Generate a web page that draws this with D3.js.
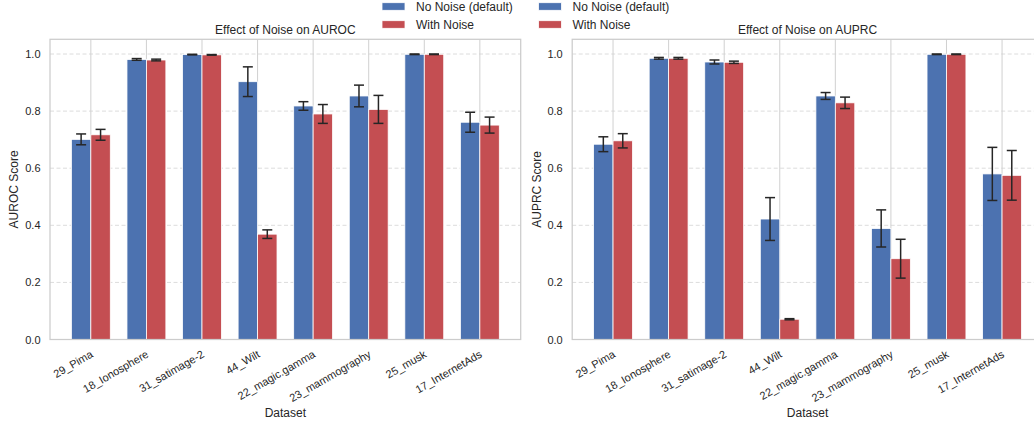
<!DOCTYPE html>
<html>
<head>
<meta charset="utf-8">
<script src="https://cdn.jsdelivr.net/npm/d3@7"></script>
<style>
  html, body { margin: 0; padding: 0; background: #fff; }
  svg { display: block; }
  text { font-family: "Liberation Sans", Arial, "DejaVu Sans", sans-serif; fill: #262626; }
</style>
</head>
<body>
<svg id="chart" width="1034" height="423"></svg>
<script>
// Datasets on the x axis
const datasets = ["29_Pima", "18_Ionosphere", "31_satimage-2", "44_Wilt",
                  "22_magic.gamma", "23_mammography", "25_musk", "17_InternetAds"];

// Series names
const seriesNames = ["No Noise (default)", "With Noise"];

// AUROC means and std
const aurocClean      = [0.701, 0.981, 0.998, 0.903, 0.818, 0.853, 0.999, 0.761];
const aurocCleanErr   = [0.019, 0.003, 0.001, 0.052, 0.015, 0.038, 0.001, 0.035];
const aurocNoisy      = [0.717, 0.979, 0.997, 0.369, 0.790, 0.806, 0.999, 0.751];
const aurocNoisyErr   = [0.019, 0.003, 0.001, 0.015, 0.033, 0.049, 0.001, 0.028];

// AUPRC means and std
const auprcClean      = [0.684, 0.985, 0.972, 0.422, 0.853, 0.389, 0.999, 0.580];
const auprcCleanErr   = [0.026, 0.003, 0.007, 0.075, 0.012, 0.065, 0.001, 0.093];
const auprcNoisy      = [0.696, 0.985, 0.971, 0.071, 0.829, 0.283, 0.999, 0.575];
const auprcNoisyErr   = [0.025, 0.003, 0.004, 0.002, 0.020, 0.068, 0.001, 0.087];

const yTicks = [0, 0.2, 0.4, 0.6, 0.8, 1.0];

const colors = ["#4C72B0", "#C44E52"];
const barW = 0.35;

const svg = d3.select("#chart");

const panels = [
  { title: "Effect of Noise on AUROC", ylabel: "AUROC Score",
    left: 50, right: 520.7, ylabX: 14,
    series: [[aurocClean, aurocCleanErr], [aurocNoisy, aurocNoisyErr]] },
  { title: "Effect of Noise on AUPRC", ylabel: "AUPRC Score",
    left: 572.2, right: 1042.9, ylabX: 537,
    series: [[auprcClean, auprcCleanErr], [auprcNoisy, auprcNoisyErr]] }
];

const plotTop = 39.3, plotBottom = 339.5;

panels.forEach(p => {
  const x = d3.scaleLinear().domain([-0.735, datasets.length - 1 + 0.735]).range([p.left, p.right]);
  const y = d3.scaleLinear().domain([0, 1.0515]).range([plotBottom, plotTop]);
  const g = svg.append("g");

  // horizontal dashed grid
  g.append("g").selectAll("line").data(yTicks).join("line")
    .attr("x1", p.left).attr("x2", p.right)
    .attr("y1", d => y(d)).attr("y2", d => y(d))
    .attr("stroke", "#dcdcdc").attr("stroke-width", 1)
    .attr("stroke-dasharray", "4,2.5");

  // vertical grid at categories
  g.append("g").selectAll("line").data(datasets).join("line")
    .attr("x1", (d, i) => x(i)).attr("x2", (d, i) => x(i))
    .attr("y1", plotTop).attr("y2", plotBottom)
    .attr("stroke", "#d0d0d0").attr("stroke-width", 1);

  // bars
  p.series.forEach(([vals, errs], s) => {
    const off = s === 0 ? -barW : 0;
    g.append("g").selectAll("rect").data(vals).join("rect")
      .attr("x", (d, i) => x(i + off))
      .attr("width", (d, i) => x(i + off + barW) - x(i + off))
      .attr("y", d => y(d))
      .attr("height", d => y(0) - y(d))
      .attr("fill", colors[s])
      .attr("stroke", "#ffffff").attr("stroke-width", 0.8);
  });

  // error bars
  p.series.forEach(([vals, errs], s) => {
    const off = s === 0 ? -barW / 2 : barW / 2;
    const eg = g.append("g").attr("stroke", "#262626").attr("stroke-width", 1.5);
    vals.forEach((v, i) => {
      const cx = x(i + off);
      const y1 = y(v + errs[i]), y2 = y(v - errs[i]);
      eg.append("line").attr("x1", cx).attr("x2", cx).attr("y1", y1).attr("y2", y2);
      eg.append("line").attr("x1", cx - 5).attr("x2", cx + 5).attr("y1", y1).attr("y2", y1);
      eg.append("line").attr("x1", cx - 5).attr("x2", cx + 5).attr("y1", y2).attr("y2", y2);
    });
  });

  // frame
  g.append("rect")
    .attr("x", p.left).attr("y", plotTop)
    .attr("width", p.right - p.left).attr("height", plotBottom - plotTop)
    .attr("fill", "none").attr("stroke", "#cccccc").attr("stroke-width", 1.25);

  // y axis labels
  const yAxis = d3.axisLeft(y).tickValues(yTicks).tickFormat(d3.format(".1f")).tickSize(0).tickPadding(9.5);
  const ya = g.append("g").attr("transform", `translate(${p.left},0)`).call(yAxis);
  ya.select(".domain").remove();
  ya.selectAll("text").attr("font-size", 11).attr("fill", "#262626");
  ya.attr("font-family", null).attr("font-size", null);

  // x axis labels (rotated)
  const xa = g.append("g");
  xa.selectAll("text").data(datasets).join("text")
    .attr("transform", (d, i) => `translate(${x(i) - 1},${plotBottom + 10}) rotate(-30)`)
    .attr("text-anchor", "end")
    .attr("dominant-baseline", "hanging")
    .attr("font-size", 11)
    .text(d => d);

  // titles
  const cx = (p.left + p.right) / 2;
  g.append("text").attr("x", cx).attr("y", 34).attr("text-anchor", "middle")
    .attr("font-size", 12).text(p.title);
  g.append("text").attr("x", cx).attr("y", 417).attr("text-anchor", "middle")
    .attr("font-size", 12).text("Dataset");
  g.append("text")
    .attr("transform", `translate(${p.ylabX},${(plotTop + plotBottom) / 2}) rotate(-90)`)
    .attr("text-anchor", "middle").attr("dominant-baseline", "central")
    .attr("font-size", 12).text(p.ylabel);
});

// legends (one per panel, both placed at the top)
const legendX = [382, 538.5];
legendX.forEach(lx => {
  const lg = svg.append("g");
  seriesNames.forEach((name, s) => {
    const cy = 6.5 + s * 18;
    lg.append("rect").attr("x", lx).attr("y", cy - 3.8).attr("width", 23).attr("height", 7.6)
      .attr("fill", colors[s]).attr("stroke", "#fff").attr("stroke-width", 0.8);
    lg.append("text").attr("x", lx + 34).attr("y", cy).attr("dominant-baseline", "central")
      .attr("font-size", 12).text(name);
  });
});
</script>
</body>
</html>
